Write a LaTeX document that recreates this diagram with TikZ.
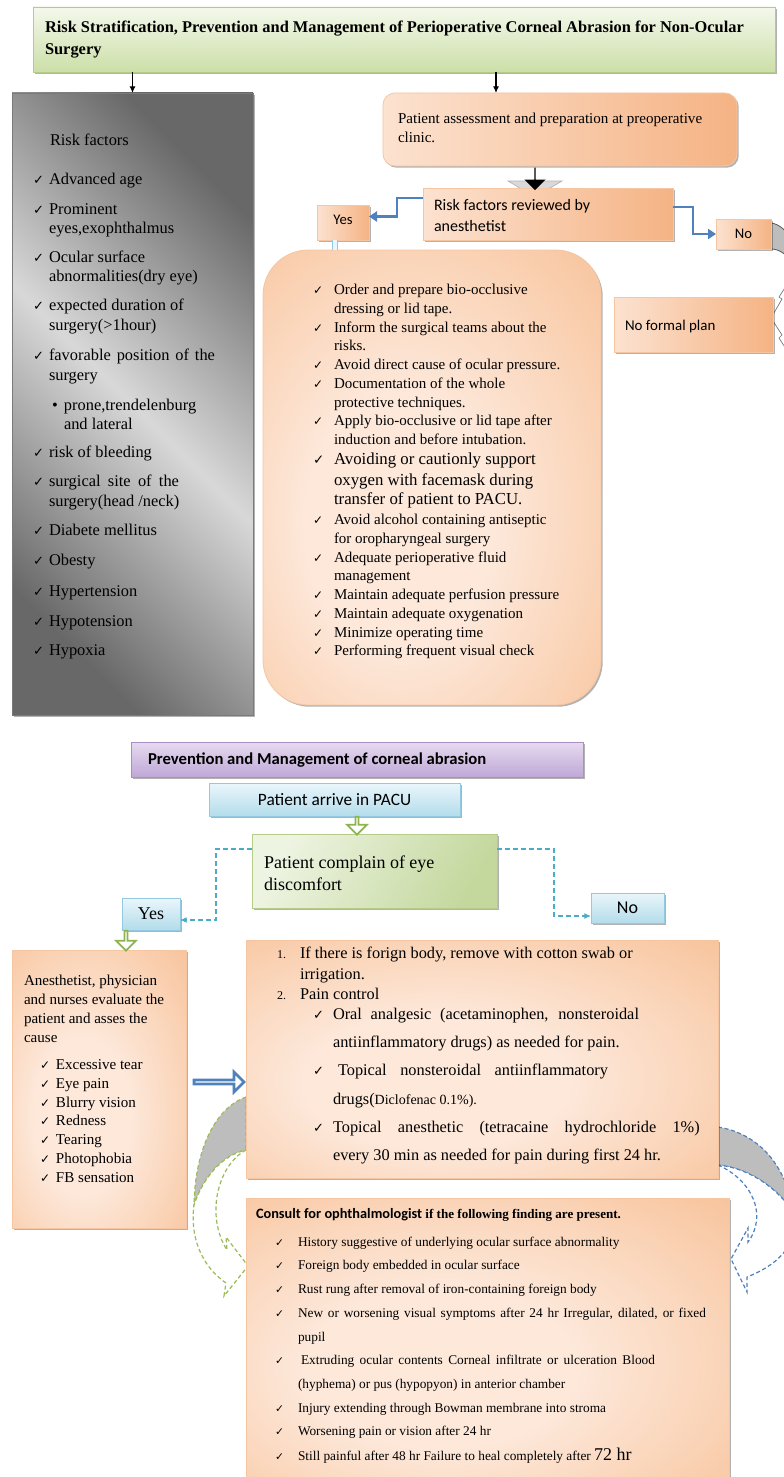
\documentclass[tikz,border=0pt]{standalone}
\usepackage{fontspec}
\setmainfont{Liberation Serif}
\setsansfont{Carlito}
\newfontfamily\symf{DejaVu Sans}
\usetikzlibrary{fit,shadows,shapes.arrows,arrows.meta,calc}
\definecolor{tgT}{HTML}{F4F8EC}
\definecolor{tgB}{HTML}{CCDFA8}
\definecolor{tgD}{HTML}{B4CC88}
\definecolor{grD}{HTML}{686868}
\definecolor{grL}{HTML}{D8D8D8}
\definecolor{grB}{HTML}{7A7A7A}
\definecolor{orL}{HTML}{FCE2D0}
\definecolor{orD}{HTML}{F5B384}
\definecolor{orM}{HTML}{F9CCAA}
\definecolor{orC}{HTML}{FDE8DA}
\definecolor{orB}{HTML}{F6C6A2}
\definecolor{blA}{HTML}{4F81BD}
\definecolor{bxT}{HTML}{EAF6FB}
\definecolor{bxB}{HTML}{B3DCEB}
\definecolor{bxD}{HTML}{93CADF}
\definecolor{puT}{HTML}{E6DAF0}
\definecolor{puB}{HTML}{BFA8D6}
\definecolor{puD}{HTML}{A890C2}
\definecolor{gnT}{HTML}{EEF4E2}
\definecolor{gnB}{HTML}{C4D89E}
\definecolor{gnD}{HTML}{B6CD8A}
\definecolor{gnA}{HTML}{8EB44F}
\definecolor{dsh}{HTML}{4BACC6}
\definecolor{cvG}{HTML}{BDBDBD}
\definecolor{dgn}{HTML}{9BBB59}
\definecolor{dbl}{HTML}{4F81BD}
\pgfdeclareradialshading{orrad}{\pgfpoint{-6bp}{-6bp}}{color(0bp)=(orC); color(14bp)=(orC); color(34bp)=(orM); color(50bp)=(orD); color(75bp)=(orD)}
\newcommand\chk{\scalebox{.8}{\symf ✓}}
\newcommand\ci[2]{\makebox[#1][l]{\chk}#2}
\newcommand\js[2]{\makebox[#1][s]{#2}}
\begin{document}
\begin{tikzpicture}[x=0.75pt,y=-0.75pt,
  bx/.style={inner sep=0pt, outer sep=0pt},
  shd/.style={drop shadow={shadow xshift=1.3pt, shadow yshift=-1.3pt, opacity=.3, fill=black}},
  orsm/.style={bx, shd, draw=orB, line width=.6pt, left color=orL, right color=orD},
  orbig/.style={bx, shd, draw=orB, line width=.6pt, shading=orrad},
  blubox/.style={bx, shd, draw=bxD, line width=.6pt, top color=bxT, bottom color=bxB},
  ln/.style={anchor=base west, inner sep=0pt, outer sep=0pt},
  ctr/.style={anchor=center, inner sep=0pt, outer sep=0pt},
  gt/.style={ln, font=\fontsize{12.3}{15}\selectfont},
  at1/.style={ln, font=\fontsize{11.25}{14}\selectfont},
  at1b/.style={ln, font=\fontsize{12.6}{15}\selectfont},
  bt2/.style={ln, font=\fontsize{12.25}{15}\selectfont},
  lt/.style={ln, font=\fontsize{11.3}{14}\selectfont},
  ct/.style={ln, font=\fontsize{10}{12}\selectfont},
  blk/.style={-{Latex[length=5pt,width=4.5pt]}, line width=.8pt},
  belb/.style={draw=blA, line width=2.2pt, -{Triangle[length=6pt,width=7.5pt]}},
  dcon/.style={draw=dsh, line width=.9pt, dash pattern=on 3.5pt off 2.5pt, -{Latex[length=5pt,width=4.5pt]}},
  garr/.style={single arrow, draw=gnA, fill=white, line width=1.3pt, rotate=-90, minimum width=15pt, single arrow head extend=4pt, inner sep=0pt},
  lbar/.style={draw=bxD, double=bxT, double distance=3.5pt, line width=.7pt},
  cvd/.style={dash pattern=on 3pt off 2pt, line width=.9pt},
]
\useasboundingbox (0,0) rectangle (784,1477);
\fill[white] (0,0) rectangle (784,1477);
\clip (0,0) rectangle (784,1477);

% ---------- decorative curved arrows (behind boxes) ----------
\filldraw[fill=cvG, draw=black!65, line width=.6pt] (771,223) .. controls (779,224) and (786,230) .. (792,240) -- (792,262) .. controls (786,254) and (779,249) .. (771,249) -- cycle;
\filldraw[fill=white, draw=black!55, line width=.5pt] (788,283) -- (779,297) -- (782,299) -- (771,318) -- (782,335) -- (779,338) -- (788,352);
\fill[black!15] (508,181) -- (562,181) -- (535,197) -- cycle;
\draw[black!30, line width=.5pt] (508,181) -- (562,181) -- (535,197) -- cycle;

\filldraw[fill=cvG, draw=dgn, cvd] (246,1097) .. controls (215,1108) and (195,1150) .. (194,1205) .. controls (203,1178) and (222,1155) .. (246,1150) -- cycle;
\filldraw[fill=white, draw=dgn, cvd] (246,1150) .. controls (218,1165) and (205,1215) .. (227,1250) -- (226,1237) -- (248,1266) -- (224,1296) -- (226,1283) .. controls (200,1265) and (190,1235) .. (194,1205) .. controls (203,1178) and (222,1155) .. (246,1150) -- cycle;
\filldraw[fill=cvG, draw=dbl, cvd] (718,1127) .. controls (755,1133) and (785,1160) .. (795,1215) .. controls (780,1190) and (750,1168) .. (718,1165) -- cycle;
\filldraw[fill=white, draw=dbl, cvd] (718,1165) .. controls (752,1180) and (768,1215) .. (748,1242) -- (748,1228) -- (731,1259) -- (747,1292) -- (747,1277) .. controls (785,1262) and (797,1240) .. (795,1215) .. controls (780,1190) and (750,1168) .. (718,1165) -- cycle;

% ---------- boxes ----------
\node[fit={(33,7) (775,72)}, bx, shd, draw=tgD, line width=.6pt, top color=tgT, bottom color=tgB] (title) {};
\node[fit={(12,93) (253,715)}, bx, shd, draw=grB, line width=.6pt, left color=grD, right color=grD, middle color=grL, shading angle=-45] (gbox) {};
\node[fit={(383,93) (737,166)}, orsm, rounded corners=9pt] (assess) {};
\node[fit={(423,188) (673,240)}, orsm] (risk) {};
\node[fit={(317,205) (369,240)}, orsm] (yes1) {};
\node[fit={(716,219) (771,249)}, orsm] (no1) {};
\node[fit={(614,297) (773,352)}, orsm] (nfp) {};
\node[fit={(263,250) (601,705)}, orbig, rounded corners=34pt] (box1) {};
\node[fit={(131,742) (583,777)}, bx, shd, draw=puD, line width=.6pt, top color=puT, bottom color=puB] (purp) {};
\node[fit={(209,783) (460,816)}, blubox] (pacu) {};
\node[fit={(252,834) (497,908)}, bx, shd, draw=gnD, line width=.6pt, left color=gnT, right color=gnB, shading angle=60] (comp) {};
\node[fit={(122,898) (180,930)}, blubox] (yes2) {};
\node[fit={(591,893) (664,923)}, blubox] (no2) {};
\node[fit={(12,950) (186,1228)}, orbig] (lbox) {};
\node[fit={(246,940) (718,1178)}, orbig] (box2) {};
\node[fit={(246,1198) (729,1482)}, orbig] (cons) {};

% ---------- texts ----------
\node[ln, font=\bfseries\fontsize{12.3}{16}\selectfont] (tt1) at (45,33) {Risk Stratification, Prevention and Management of Perioperative Corneal Abrasion for Non-Ocular};
\node[ln, font=\bfseries\fontsize{12.3}{16}\selectfont] (tt2) at (45,55) {Surgery};

\node[gt] (g0) at (50,145) {Risk factors};
\node[gt] (g1) at (33,184) {\ci{12pt}{Advanced age}};
\node[gt] (g2) at (33,214) {\ci{12pt}{Prominent}};
\node[gt] (g2b) at (49,233) {eyes,exophthalmus};
\node[gt] (g3) at (33,262) {\ci{12pt}{Ocular surface}};
\node[gt] (g3b) at (49,281) {abnormalities(dry eye)};
\node[gt] (g4) at (33,310) {\ci{12pt}{expected duration of}};
\node[gt] (g4b) at (49,330) {surgery(>1hour)};
\node[gt] (g5) at (33,360) {\ci{12pt}{\js{124.5pt}{favorable position of the}}};
\node[gt] (g5b) at (49,380) {surgery};
\node[gt] (g6) at (52,410) {\makebox[9pt][l]{•}prone,trendelenburg};
\node[gt] (g6b) at (64,429) {and lateral};
\node[gt] (g7) at (33,457) {\ci{12pt}{risk of bleeding}};
\node[gt] (g8) at (33,486) {\ci{12pt}{\js{97.5pt}{surgical site of the}}};
\node[gt] (g8b) at (49,506) {surgery(head /neck)};
\node[gt] (g9) at (33,535) {\ci{12pt}{Diabete mellitus}};
\node[gt] (g10) at (33,565) {\ci{12pt}{Obesty}};
\node[gt] (g11) at (33,596) {\ci{12pt}{Hypertension}};
\node[gt] (g12) at (33,626) {\ci{12pt}{Hypotension}};
\node[gt] (g13) at (33,655) {\ci{12pt}{Hypoxia}};

\node[ln, font=\fontsize{11.3}{14}\selectfont] (as1) at (398,123) {Patient assessment and preparation at preoperative};
\node[ln, font=\fontsize{11.3}{14}\selectfont] (as2) at (398,142) {clinic.};
\node[ln, font=\sffamily\fontsize{12}{14}\selectfont] (rk1) at (434,210) {Risk factors reviewed by};
\node[ln, font=\sffamily\fontsize{12}{14}\selectfont] (rk2) at (434,231) {anesthetist};
\node[ctr, font=\sffamily\fontsize{11}{12}\selectfont] (yes1t) at ($(yes1.center)+(0,-3)$) {Yes};
\node[ctr, font=\sffamily\fontsize{11}{12}\selectfont] (no1t) at (no1.center) {No};
\node[ln, font=\sffamily\fontsize{11.2}{14}\selectfont] (nfpt) at (625,330) {No formal plan};

\node[at1] (a1) at (313,294) {\ci{15.75pt}{Order and prepare bio-occlusive}};
\node[at1] (a1b) at (334,313) {dressing or lid tape.};
\node[at1] (a2) at (313,332) {\ci{15.75pt}{Inform the surgical teams about the}};
\node[at1] (a2b) at (334,350) {risks.};
\node[at1] (a3) at (313,369) {\ci{15.75pt}{Avoid direct cause of ocular pressure.}};
\node[at1] (a4) at (313,388) {\ci{15.75pt}{Documentation of the whole}};
\node[at1] (a4b) at (334,407) {protective techniques.};
\node[at1] (a5) at (313,425) {\ci{15.75pt}{Apply bio-occlusive or lid tape after}};
\node[at1] (a5b) at (334,444) {induction and before intubation.};
\node[at1b] (a6) at (313,464) {\ci{15.75pt}{Avoiding or cautionly support}};
\node[at1b] (a6b) at (334,485) {oxygen with facemask during};
\node[at1b] (a6c) at (334,504) {transfer of patient to PACU.};
\node[at1] (a7) at (313,524) {\ci{15.75pt}{Avoid alcohol containing antiseptic}};
\node[at1] (a7b) at (334,543) {for oropharyngeal surgery};
\node[at1] (a8) at (313,562) {\ci{15.75pt}{Adequate perioperative fluid}};
\node[at1] (a8b) at (334,580) {management};
\node[at1] (a9) at (313,599) {\ci{15.75pt}{Maintain adequate perfusion pressure}};
\node[at1] (a10) at (313,618) {\ci{15.75pt}{Maintain adequate oxygenation}};
\node[at1] (a11) at (313,637) {\ci{15.75pt}{Minimize operating time}};
\node[at1] (a12) at (313,655) {\ci{15.75pt}{Performing frequent visual check}};

\node[ln, font=\sffamily\bfseries\fontsize{12.5}{14}\selectfont] (purt) at (148,764) {Prevention and Management of corneal abrasion};
\node[ctr, font=\sffamily\fontsize{13}{15}\selectfont] (pacut) at (pacu.center) {Patient arrive in PACU};
\node[ln, font=\fontsize{13.5}{16.5}\selectfont] (cp1) at (264,868) {Patient complain of eye};
\node[ln, font=\fontsize{13.5}{16.5}\selectfont] (cp2) at (264,890) {discomfort};
\node[ctr, font=\fontsize{13.5}{15}\selectfont] (yes2t) at (yes2.center) {Yes};
\node[ctr, font=\sffamily\fontsize{13.5}{15}\selectfont] (no2t) at (no2.center) {No};

\node[lt] (l1) at (24,985) {Anesthetist, physician};
\node[lt] (l2) at (24,1004) {and nurses evaluate the};
\node[lt] (l3) at (24,1023) {patient and asses the};
\node[lt] (l4) at (24,1042) {cause};
\node[lt] (l5) at (40,1069) {\ci{12pt}{Excessive tear}};
\node[lt] (l6) at (40,1088) {\ci{12pt}{Eye pain}};
\node[lt] (l7) at (40,1107) {\ci{12pt}{Blurry vision}};
\node[lt] (l8) at (40,1125) {\ci{12pt}{Redness}};
\node[lt] (l9) at (40,1144) {\ci{12pt}{Tearing}};
\node[lt] (l10) at (40,1163) {\ci{12pt}{Photophobia}};
\node[lt] (l11) at (40,1182) {\ci{12pt}{FB sensation}};

\node[bt2] (b1) at (277,958) {\makebox[17.25pt][l]{\small 1.}If there is forign body, remove with cotton swab or};
\node[bt2] (b1b) at (300,979) {irrigation.};
\node[bt2] (b2) at (277,999) {\makebox[17.25pt][l]{\small 2.}Pain control};
\node[bt2] (b3) at (313,1019) {\ci{15pt}{\js{229.5pt}{Oral analgesic (acetaminophen, nonsteroidal}}};
\node[bt2] (b3b) at (333,1047) {antiinflammatory drugs) as needed for pain.};
\node[bt2] (b4) at (313,1075) {\ci{18.75pt}{\js{202.5pt}{Topical nonsteroidal antiinflammatory}}};
\node[bt2] (b4b) at (333,1104) {drugs({\fontsize{10.5}{12}\selectfont Diclofenac 0.1\%).}};
\node[bt2] (b5) at (313,1132) {\ci{15pt}{\js{275pt}{Topical anesthetic (tetracaine hydrochloride 1\%)}}};
\node[bt2] (b5b) at (333,1160) {every 30 min as needed for pain during first 24 hr.};

\node[ln] (ch) at (256,1218) {{\sffamily\bfseries\fontsize{10.75}{12}\selectfont Consult for ophthalmologist} {\bfseries\fontsize{9.8}{12}\selectfont if the following finding are present.}};
\node[ct] (c1) at (275,1246) {\ci{17.25pt}{History suggestive of underlying ocular surface abnormality}};
\node[ct] (c2) at (275,1269) {\ci{17.25pt}{Foreign body embedded in ocular surface}};
\node[ct] (c3) at (275,1293) {\ci{17.25pt}{Rust rung after removal of iron-containing foreign body}};
\node[ct] (c4) at (275,1317) {\ci{17.25pt}{\js{306pt}{New or worsening visual symptoms after 24 hr Irregular, dilated, or fixed}}};
\node[ct] (c4b) at (298,1341) {pupil};
\node[ct] (c5) at (275,1364) {\ci{19.5pt}{\js{265.5pt}{Extruding ocular contents Corneal infiltrate or ulceration Blood}}};
\node[ct] (c5b) at (298,1388) {(hyphema) or pus (hypopyon) in anterior chamber};
\node[ct] (c6) at (275,1412) {\ci{17.25pt}{Injury extending through Bowman membrane into stroma}};
\node[ct] (c7) at (275,1435) {\ci{17.25pt}{Worsening pain or vision after 24 hr}};
\node[ct] (c8) at (275,1460) {\ci{17.25pt}{Still painful after 48 hr Failure to heal completely after {\fontsize{13.5}{14}\selectfont 72 hr}}};

% ---------- connectors ----------
\coordinate (c496) at (496,93);
\draw[blk] (title.south -| gbox.north) -- (gbox.north);
\draw[blk] (title.south -| c496) -- (c496);
\node[single arrow, fill=black, rotate=-90, minimum height=17pt, minimum width=16pt, single arrow head extend=3pt, inner sep=0pt] (karr) at (535,178.5) {};
\draw[belb] ([yshift=-7.5pt]risk.north west) -- ++(-26,0) |- ([yshift=4.5pt]yes1.east);
\draw[belb] ([yshift=-14.25pt]risk.north east) -- ++(20,0) |- (no1.west);
\draw[lbar] ($(yes1.south)+(-8,0)$) -- ($(yes1.south |- box1.north)+(-8,0)$);

\node[garr, minimum height=13.5pt] (ga1) at (357,825) {};
\draw[dcon] ([yshift=-11.25pt]comp.north west) -- ++(-36,0) |- ([yshift=-4.5pt]yes2.east);
\draw[dcon] ([yshift=-11.25pt]comp.north east) -- ++(57,0) |- ([yshift=-6pt]no2.west);
\node[garr, minimum height=15pt] (ga2) at (126,940) {};
\node[single arrow, draw=dbl, fill=white, line width=2pt, minimum height=37.5pt, minimum width=15pt, single arrow head extend=4pt, inner sep=0pt] (barr) at (218,1082) {};
\end{tikzpicture}
\end{document}
